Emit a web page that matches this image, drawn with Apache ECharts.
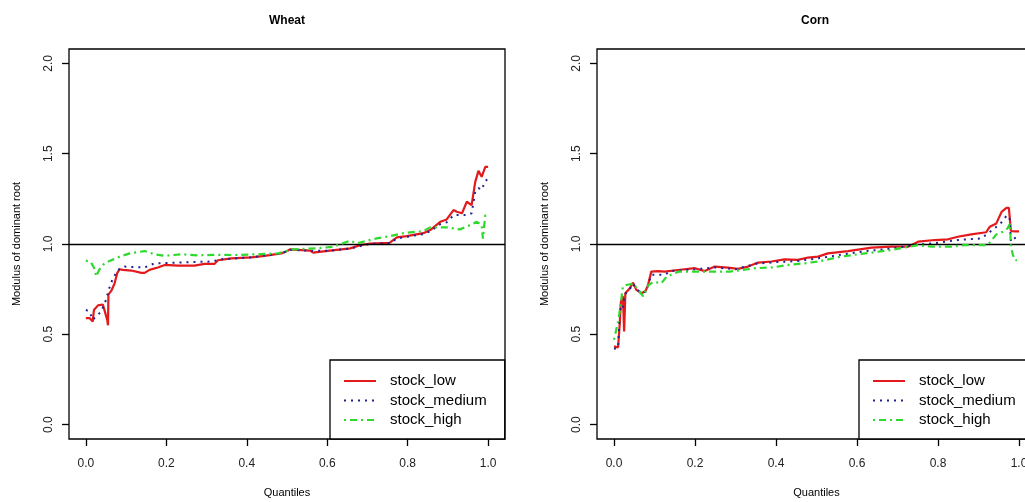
<!DOCTYPE html>
<html>
<head>
<meta charset="utf-8">
<title>Modulus of dominant root by quantile</title>
<script src="https://cdn.jsdelivr.net/npm/echarts@6/dist/echarts.min.js"></script>
<style>
  html, body { margin: 0; padding: 0; background: #fff; }
  #chart { width: 1025px; height: 502px; }
</style>
</head>
<body>
<div id="chart"></div>
<script>
// Quantile / modulus pairs for each stock level
const wheatLow = [[0.000,0.59],[0.009,0.59],[0.017,0.57],[0.020,0.635],[0.030,0.66],[0.042,0.665],[0.046,0.635],[0.053,0.58],[0.055,0.55],[0.056,0.72],[0.063,0.74],[0.071,0.78],[0.078,0.84],[0.084,0.86],[0.092,0.857],[0.113,0.853],[0.138,0.84],[0.146,0.84],[0.158,0.857],[0.179,0.87],[0.196,0.884],[0.229,0.88],[0.270,0.88],[0.295,0.89],[0.320,0.89],[0.328,0.91],[0.362,0.92],[0.411,0.926],[0.444,0.934],[0.486,0.948],[0.502,0.963],[0.507,0.97],[0.557,0.963],[0.565,0.952],[0.607,0.963],[0.657,0.976],[0.682,0.994],[0.706,1.002],[0.756,1.007],[0.773,1.037],[0.798,1.044],[0.839,1.06],[0.856,1.077],[0.881,1.123],[0.897,1.136],[0.914,1.188],[0.922,1.179],[0.935,1.17],[0.947,1.234],[0.959,1.215],[0.968,1.344],[0.976,1.405],[0.984,1.372],[0.993,1.427],[1.000,1.427]];
const wheatMedium = [[0.000,0.635],[0.009,0.626],[0.017,0.58],[0.026,0.60],[0.038,0.626],[0.050,0.69],[0.058,0.755],[0.067,0.81],[0.080,0.857],[0.096,0.875],[0.146,0.87],[0.171,0.893],[0.229,0.897],[0.312,0.903],[0.337,0.915],[0.411,0.926],[0.486,0.948],[0.507,0.968],[0.557,0.963],[0.607,0.963],[0.657,0.975],[0.706,1.0],[0.756,1.005],[0.773,1.03],[0.798,1.04],[0.839,1.055],[0.856,1.07],[0.881,1.11],[0.897,1.12],[0.914,1.16],[0.947,1.16],[0.959,1.17],[0.968,1.29],[0.976,1.31],[0.984,1.30],[0.993,1.35],[1.000,1.36]];
const wheatHigh = [[0.000,0.908],[0.012,0.90],[0.020,0.87],[0.026,0.82],[0.033,0.857],[0.046,0.893],[0.063,0.91],[0.080,0.927],[0.109,0.948],[0.146,0.961],[0.171,0.943],[0.196,0.935],[0.238,0.943],[0.279,0.937],[0.320,0.94],[0.370,0.939],[0.428,0.943],[0.478,0.948],[0.502,0.963],[0.507,0.97],[0.574,0.976],[0.615,0.985],[0.657,1.018],[0.673,1.004],[0.723,1.031],[0.756,1.044],[0.790,1.06],[0.839,1.072],[0.856,1.092],[0.897,1.092],[0.930,1.081],[0.955,1.105],[0.972,1.123],[0.984,1.105],[0.987,1.03],[0.993,1.16],[1.000,1.155]];

const cornLow = [[0.000,0.433],[0.010,0.427],[0.014,0.553],[0.017,0.68],[0.022,0.71],[0.025,0.515],[0.028,0.727],[0.039,0.755],[0.047,0.786],[0.055,0.746],[0.068,0.727],[0.078,0.74],[0.084,0.773],[0.092,0.847],[0.109,0.85],[0.125,0.847],[0.158,0.856],[0.200,0.866],[0.224,0.85],[0.249,0.875],[0.281,0.869],[0.306,0.862],[0.331,0.875],[0.356,0.897],[0.389,0.903],[0.421,0.915],[0.454,0.912],[0.479,0.925],[0.504,0.93],[0.528,0.948],[0.578,0.961],[0.636,0.98],[0.685,0.985],[0.726,0.985],[0.751,1.013],[0.792,1.022],[0.825,1.026],[0.849,1.04],[0.882,1.053],[0.919,1.065],[0.928,1.096],[0.944,1.114],[0.957,1.178],[0.969,1.2],[0.975,1.2],[0.980,1.072],[0.990,1.07],[1.000,1.07]];
const cornMedium = [[0.000,0.42],[0.010,0.425],[0.014,0.60],[0.017,0.66],[0.022,0.65],[0.026,0.72],[0.039,0.75],[0.047,0.78],[0.055,0.75],[0.068,0.73],[0.078,0.735],[0.084,0.77],[0.092,0.83],[0.109,0.83],[0.125,0.83],[0.140,0.85],[0.200,0.86],[0.250,0.87],[0.300,0.86],[0.350,0.89],[0.400,0.90],[0.450,0.905],[0.500,0.92],[0.560,0.94],[0.620,0.96],[0.685,0.975],[0.740,0.994],[0.790,1.004],[0.849,1.022],[0.907,1.031],[0.940,1.087],[0.957,1.12],[0.969,1.156],[0.977,1.15],[0.980,1.013],[0.990,1.033],[1.000,1.035]];
const cornHigh = [[0.000,0.47],[0.010,0.57],[0.014,0.626],[0.022,0.764],[0.030,0.773],[0.047,0.78],[0.060,0.746],[0.072,0.71],[0.084,0.77],[0.096,0.79],[0.117,0.783],[0.130,0.82],[0.160,0.847],[0.220,0.847],[0.285,0.847],[0.350,0.866],[0.390,0.87],[0.430,0.884],[0.470,0.893],[0.504,0.903],[0.560,0.93],[0.620,0.948],[0.685,0.967],[0.750,0.994],[0.784,0.985],[0.833,0.985],[0.866,0.994],[0.923,0.994],[0.944,1.053],[0.960,1.068],[0.972,1.087],[0.978,1.114],[0.980,0.985],[0.985,0.94],[0.990,0.91],[0.995,0.91]];

const panelTitles = ['Wheat', 'Corn'];
const seriesNames = ['stock_low', 'stock_medium', 'stock_high'];
const xTicks = [0, 0.2, 0.4, 0.6, 0.8, 1.0];
const yTicks = [0, 0.5, 1.0, 1.5, 2.0];
const xTitle = 'Quantiles';
const yTitle = 'Modulus of dominant root';

const FONT = '"Liberation Sans", Arial, Helvetica, sans-serif';
const colors = ['#e3191c', '#23238f', '#2ed92e'];
const lineTypes = ['solid', [2, 5], [2, 4, 7, 4]];
const lineWidths = [2.2, 2, 2.2];

// Panel frames (plot box) in pixels; the second one runs past the right edge
const panels = [
  { left: 69, width: 436, top: 49, height: 390, legendLeft: 330, titleX: 282 },
  { left: 597, width: 439, top: 49, height: 390, legendLeft: 859, titleX: 810 }
];
const panelData = [[wheatLow, wheatMedium, wheatHigh], [cornLow, cornMedium, cornHigh]];

const option = {
  animation: false,
  backgroundColor: '#fff',
  textStyle: { fontFamily: FONT },
  title: panels.map((p, i) => ({
    text: panelTitles[i],
    left: p.titleX,
    top: 10,
    textAlign: 'center',
    textStyle: { fontFamily: FONT, fontSize: 12, fontWeight: 'bold', color: '#000' }
  })),
  grid: panels.map(p => ({
    left: p.left, width: p.width, top: p.top, height: p.height,
    show: true, borderColor: '#000', borderWidth: 1.3, backgroundColor: 'transparent',
    containLabel: false, outerBoundsMode: 'none'
  })),
  xAxis: panels.map((p, i) => ({
    gridIndex: i, type: 'value', min: -0.042, max: 1.042,
    name: xTitle, nameLocation: 'middle', nameGap: 48,
    nameTextStyle: { fontFamily: FONT, fontSize: 11, color: '#000' },
    axisLine: { show: false, onZero: false },
    axisTick: { show: true, inside: false, length: 7, customValues: xTicks, lineStyle: { color: '#000', width: 1.3 } },
    axisLabel: { customValues: xTicks, formatter: v => v.toFixed(1), margin: 19,
      fontFamily: FONT, fontSize: 12, color: '#222' },
    splitLine: { show: false }
  })),
  yAxis: panels.map((p, i) => ({
    gridIndex: i, type: 'value', min: -0.08, max: 2.08,
    name: yTitle, nameLocation: 'middle', nameGap: 47,
    nameTextStyle: { fontFamily: FONT, fontSize: 11, color: '#000' },
    axisLine: { show: false, onZero: false },
    axisTick: { show: true, inside: false, length: 7, customValues: yTicks, lineStyle: { color: '#000', width: 1.3 } },
    axisLabel: { customValues: yTicks, formatter: v => v.toFixed(1), rotate: 90, margin: 14,
      fontFamily: FONT, fontSize: 12, color: '#222' },
    splitLine: { show: false }
  })),
  legend: panels.map(p => ({
    data: seriesNames,
    orient: 'vertical',
    left: p.legendLeft, top: 360,
    padding: [13.5, 18, 11.5, 13],
    itemWidth: 32, itemHeight: 14, itemGap: 4.5,
    borderColor: '#000', borderWidth: 1.3, borderRadius: 0,
    backgroundColor: '#fff',
    selectedMode: false,
    itemStyle: { opacity: 0, borderWidth: 0 },
    textStyle: { fontFamily: FONT, fontSize: 15, color: '#000', padding: [0, 0, 0, 9] }
  })),
  series: []
};

panelData.forEach((sets, pi) => {
  sets.forEach((d, si) => {
    const s = {
      name: seriesNames[si], type: 'line',
      xAxisIndex: pi, yAxisIndex: pi,
      data: d, symbol: 'none', showSymbol: false,
      lineStyle: { color: colors[si], width: lineWidths[si], type: lineTypes[si] },
      itemStyle: { color: colors[si] },
      z: 3 + si
    };
    if (si === 0) {
      s.markLine = {
        silent: true, symbol: 'none', label: { show: false },
        lineStyle: { color: '#000', type: 'solid', width: 1.3 },
        data: [{ yAxis: 1 }]
      };
    }
    option.series.push(s);
  });
});

const chart = echarts.init(document.getElementById('chart'), null, { renderer: 'canvas' });
chart.setOption(option);
</script>
</body>
</html>
